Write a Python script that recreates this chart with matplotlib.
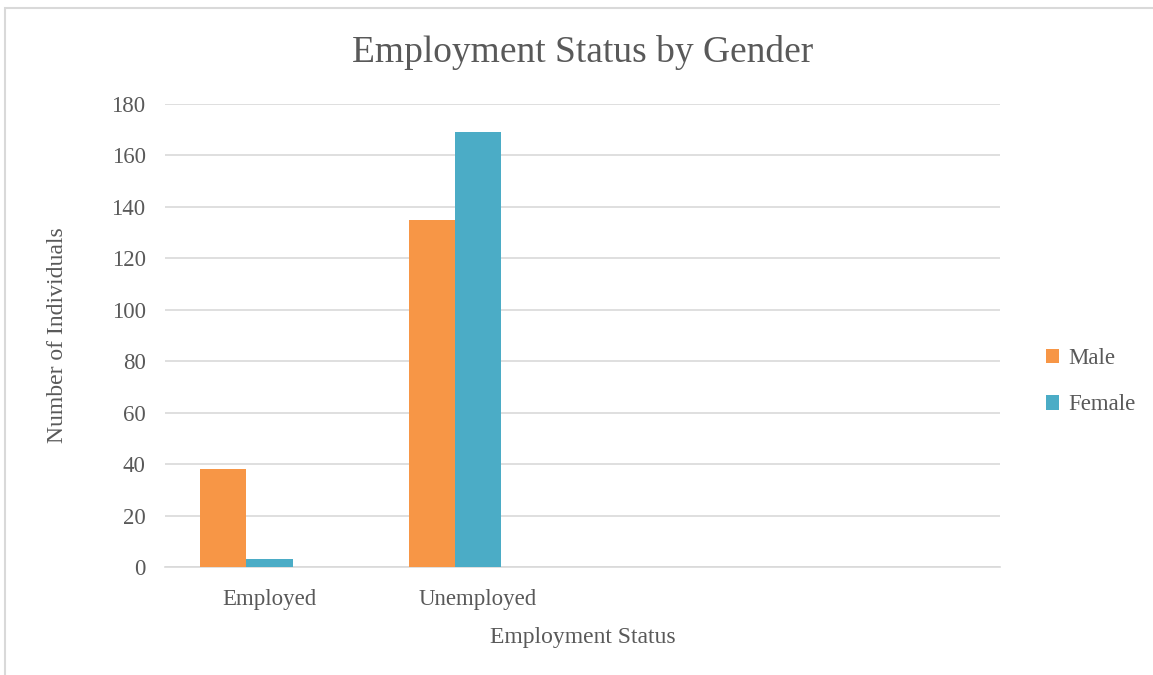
import matplotlib
matplotlib.use("Agg")
import matplotlib.pyplot as plt
import numpy as np

plt.rcParams['font.family'] = ['Liberation Serif', 'DejaVu Serif']

categories = ["Employed", "Unemployed", "", ""]
male = [38, 135, 0, 0]
female = [3, 169, 0, 0]
series_names = ["Male", "Female"]
colors = ["#F79646", "#4BACC6"]
text_color = "#595959"

fig = plt.figure(figsize=(11.53, 6.75), dpi=100)
# outer chart border (runs off the right and bottom edges in the original)
fig.patches.append(plt.Rectangle((5 / 1153, -0.05), 1.1, 1 - 8 / 675 + 0.05,
                                 transform=fig.transFigure, fill=False,
                                 edgecolor="#D9D9D9", linewidth=1.5))

ax = fig.add_axes([165 / 1153, 1 - 567 / 675, 835 / 1153, 463 / 675])

x = np.arange(len(categories))
w = 1 / 4.5  # three slots per category, gap 150%
ax.bar(x[:2] - w, male[:2], w, color=colors[0], label=series_names[0], zorder=3)
ax.bar(x[:2], female[:2], w, color=colors[1], label=series_names[1], zorder=3)

ax.set_xlim(-0.5, len(categories) - 0.5)
ax.set_ylim(0, 180)
ax.set_yticks(range(0, 181, 20))
ax.set_xticks(x)
ax.set_xticklabels(categories)
ax.grid(axis="y", color="#D9D9D9", linewidth=1.2, zorder=0)
for s in ["top", "right", "left"]:
    ax.spines[s].set_visible(False)
ax.spines["bottom"].set_color("#D9D9D9")
ax.spines["bottom"].set_linewidth(1.2)
ax.tick_params(length=0, labelsize=16.5, labelcolor=text_color)
ax.tick_params(axis="y", pad=14)
ax.tick_params(axis="x", pad=16)

ax.set_title("Employment Status by Gender", fontsize=27, color=text_color, pad=30)
ax.set_xlabel("Employment Status", fontsize=17, color=text_color, labelpad=12)
ax.set_ylabel("Number of Individuals", fontsize=17, color=text_color, labelpad=31)

leg = ax.legend(loc="center left", bbox_to_anchor=(1.03, 0.40), frameon=False,
                fontsize=16.5, handlelength=0.6, handleheight=0.6, handletextpad=0.4,
                labelspacing=1.1)
for t in leg.get_texts():
    t.set_color(text_color)

fig.savefig("out.png", dpi=100)
